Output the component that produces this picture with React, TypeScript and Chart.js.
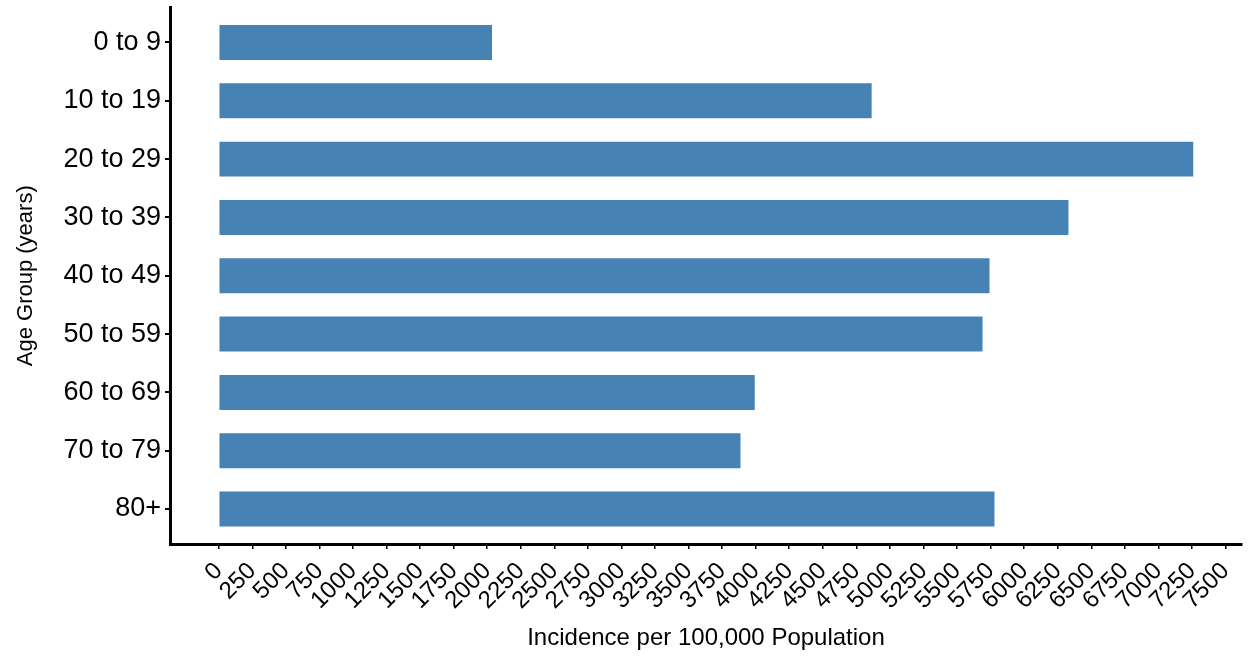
import React, { useEffect, useRef } from "react";
import { Chart, registerables } from "chart.js";

Chart.register(...registerables);

const categories = [
  "0 to 9",
  "10 to 19",
  "20 to 29",
  "30 to 39",
  "40 to 49",
  "50 to 59",
  "60 to 69",
  "70 to 79",
  "80+",
];

const incidence = [2036, 4864, 7260, 6330, 5742, 5690, 3993, 3887, 5779];

const xTickValues = [
  0, 250, 500, 750, 1000, 1250, 1500, 1750, 2000, 2250, 2500, 2750, 3000,
  3250, 3500, 3750, 4000, 4250, 4500, 4750, 5000, 5250, 5500, 5750, 6000,
  6250, 6500, 6750, 7000, 7250, 7500,
];

const xTitle = "Incidence per 100,000 Population";
const yTitle = "Age Group (years)";

const FONT = "'Liberation Sans', Arial, Helvetica, sans-serif";

export default function App() {
  const ref = useRef<HTMLCanvasElement | null>(null);

  useEffect(() => {
    if (!ref.current) return;
    const chart = new Chart(ref.current, {
      type: "bar",
      data: {
        datasets: [
          {
            data: incidence.map((v, i) => ({ x: v, y: i })),
            backgroundColor: "#4682B4",
            borderWidth: 0,
            barPercentage: 0.6,
            categoryPercentage: 1,
          },
        ],
      },
      options: {
        indexAxis: "y",
        animation: false,
        responsive: false,
        devicePixelRatio: 1,
        layout: { padding: { top: 7.5, right: 7, left: 0, bottom: 0 } },
        plugins: {
          legend: { display: false },
          tooltip: { enabled: false },
        },
        scales: {
          x: {
            type: "linear",
            min: -363,
            max: 7623,
            offset: false,
            afterBuildTicks: (s: any) => {
              s.ticks = xTickValues.map((v) => ({ value: v }));
            },
            afterFit: (s: any) => {
              s.height = 114;
              s.paddingLeft = 0;
              s.paddingRight = 0;
            },
            ticks: {
              autoSkip: false,
              minRotation: 45,
              maxRotation: 45,
              color: "#000",
              padding: 8,
              font: { family: FONT, size: 24 },
              callback: (v: any) => String(v),
            },
            grid: {
              offset: false,
              drawOnChartArea: false,
              drawTicks: true,
              tickLength: 5,
              color: "#000",
              lineWidth: 1.5,
            },
            border: { color: "#000", width: 3 },
            title: {
              display: true,
              text: xTitle,
              color: "#000",
              font: { family: FONT, size: 24 },
              padding: { top: 0, bottom: 5 },
            },
          },
          y: {
            type: "linear",
            reverse: true,
            min: -0.6,
            max: 8.6,
            offset: false,
            afterBuildTicks: (s: any) => {
              s.ticks = categories.map((_, i) => ({ value: i }));
            },
            afterFit: (s: any) => {
              s.width = 170;
              s.paddingTop = 0;
              s.paddingBottom = 0;
            },
            ticks: {
              autoSkip: false,
              color: "#000",
              padding: 4,
              font: { family: FONT, size: 27 },
              callback: (v: any) => categories[Number(v)] ?? "",
            },
            grid: {
              offset: false,
              drawOnChartArea: false,
              drawTicks: true,
              tickLength: 5,
              color: "#000",
              lineWidth: 2,
            },
            border: { color: "#000", width: 3 },
            title: {
              display: true,
              text: yTitle,
              color: "#000",
              font: { family: FONT, size: 22 },
              padding: { top: 13, bottom: 0 },
            },
          },
        },
      },
    });
    return () => chart.destroy();
  }, []);

  return (
    <div
      style={{
        position: "absolute",
        left: 0,
        top: 0,
        width: 1249,
        height: 658,
        background: "#fff",
      }}
    >
      <canvas ref={ref} width={1249} height={658} />
    </div>
  );
}
